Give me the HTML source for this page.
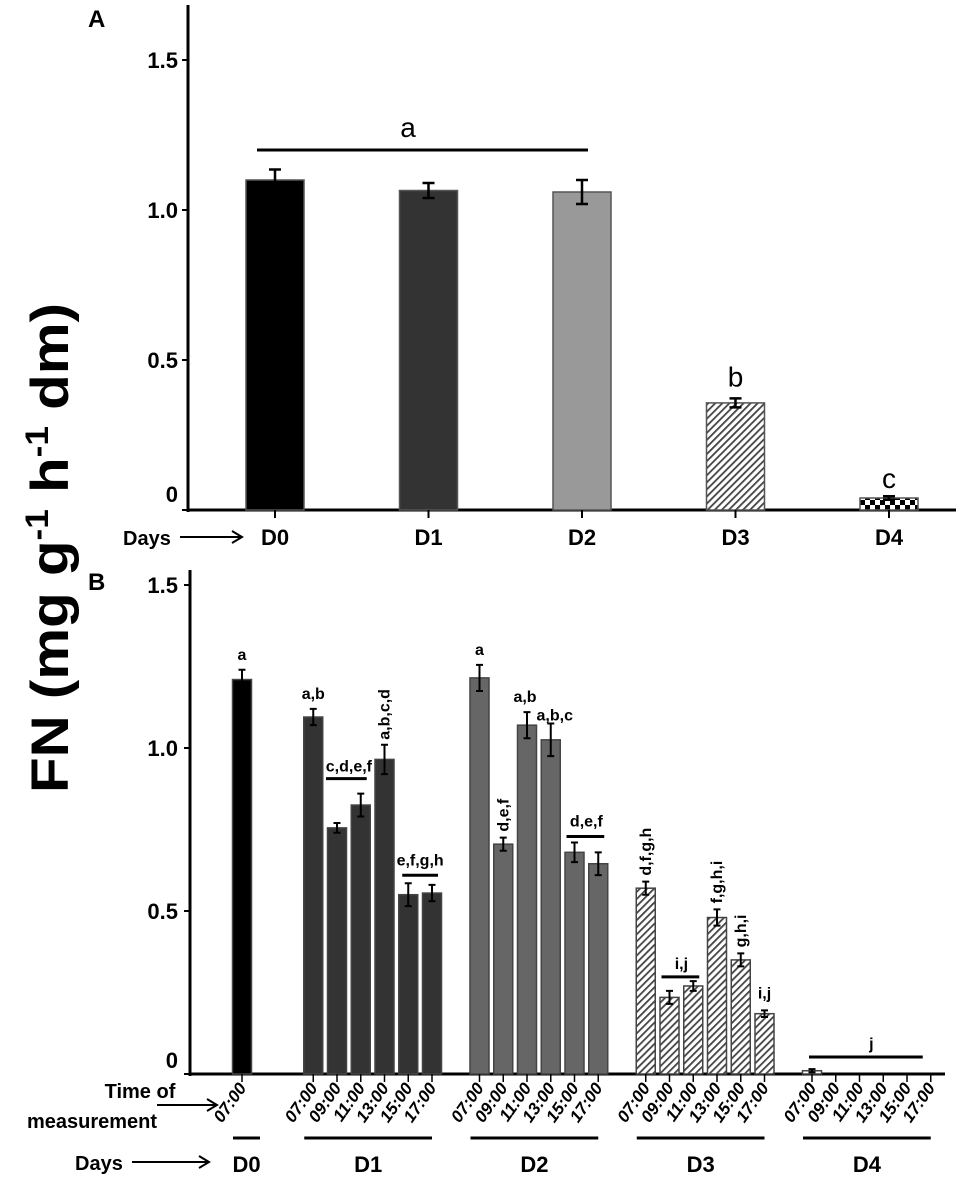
<!DOCTYPE html>
<html><head><meta charset="utf-8"><style>
html,body{margin:0;padding:0;background:#fff;}
svg{display:block;font-family:"Liberation Sans",Arial,sans-serif;}
</style></head><body>
<svg id="fig" width="963" height="1183" viewBox="0 0 963 1183" xmlns="http://www.w3.org/2000/svg">
<defs>
<pattern id="hatch" patternUnits="userSpaceOnUse" width="5" height="5" patternTransform="rotate(45)">
<rect width="5" height="5" fill="#fff"/><rect width="1.8" height="5" fill="#444"/></pattern>
<pattern id="checker" patternUnits="userSpaceOnUse" width="10" height="10">
<rect width="10" height="10" fill="#fff"/><rect width="5" height="5" fill="#000"/><rect x="5" y="5" width="5" height="5" fill="#000"/></pattern>
</defs>
<text transform="translate(68,548) rotate(-90)" text-anchor="middle" font-size="53" font-weight="bold" textLength="490" lengthAdjust="spacingAndGlyphs">FN  (mg g<tspan font-size="32" dy="-20">-1</tspan><tspan dy="20"> h</tspan><tspan font-size="32" dy="-20">-1</tspan><tspan dy="20"> dm)</tspan></text>
<text x="88" y="27" font-size="24" font-weight="bold">A</text>
<text x="88" y="590" font-size="24" font-weight="bold">B</text>
<g id="gA"></g>
<g id="gB"></g>
</svg>
<script>
// Panel A data
const aCategories = ["D0","D1","D2","D3","D4"];
const aValues = [1.10, 1.065, 1.06, 0.357, 0.04];
const aErrors = [0.035, 0.025, 0.04, 0.015, 0.006];
const aFills = ["#000","#333","#999","url(#hatch)","url(#checker)"];
const yTicks = [0, 0.5, 1.0, 1.5];
const yTickLabels = ["0","0.5","1.0","1.5"];
// Panel B data
const bDays = ["D0","D1","D2","D3","D4"];
const bTimes = [["07:00"],["07:00","09:00","11:00","13:00","15:00","17:00"],["07:00","09:00","11:00","13:00","15:00","17:00"],["07:00","09:00","11:00","13:00","15:00","17:00"],["07:00","09:00","11:00","13:00","15:00","17:00"]];
const bValues = [[1.21],[1.095,0.755,0.825,0.965,0.55,0.555],[1.215,0.705,1.07,1.025,0.68,0.645],[0.57,0.235,0.27,0.48,0.35,0.185],[0.01,0,0,0,0,0]];
const bErrors = [[0.03],[0.025,0.015,0.035,0.045,0.035,0.025],[0.04,0.02,0.04,0.05,0.03,0.035],[0.02,0.02,0.015,0.025,0.02,0.01],[0.005,0,0,0,0,0]];
const bFills = ["#000","#333","#666","url(#hatch)","#fff"];

const NS="http://www.w3.org/2000/svg";
function mk(parent,tag,attrs,text){const el=document.createElementNS(NS,tag);for(const k in attrs)el.setAttribute(k,attrs[k]);if(text!==undefined)el.textContent=text;parent.appendChild(el);return el;}

// ---- Panel A ----
const gA=document.getElementById('gA');
const axA=188, y0A=510, pxA=300;
const yA=v=>y0A-v*pxA;
const xA=i=>275+i*153.5;
let e;
e=mk(gA,'line',{x1:axA,y1:5,x2:axA,y2:y0A+2,stroke:'#000','stroke-width':3});

e=mk(gA,'line',{x1:axA,y1:y0A,x2:956,y2:y0A,stroke:'#000','stroke-width':3});

yTicks.forEach((t,i)=>{
  mk(gA,'line',{x1:axA-6,y1:yA(t),x2:axA,y2:yA(t),stroke:'#000','stroke-width':2});
  e=mk(gA,'text',{x:axA-10,y:yA(t)+(t===0?-8:8),'text-anchor':'end','font-size':22,'font-weight':'bold'},yTickLabels[i]);
  
});
aCategories.forEach((c,i)=>{
  const x=xA(i),w=58;
  e=mk(gA,'rect',{x:x-w/2,y:yA(aValues[i]),width:w,height:aValues[i]*pxA,fill:aFills[i],stroke:'#555','stroke-width':1.5});
  
  const t=yA(aValues[i]+aErrors[i]),b=yA(aValues[i]-aErrors[i]);
  e=mk(gA,'path',{d:`M${x-6},${t}H${x+6}M${x},${t}V${b}M${x-6},${b}H${x+6}`,stroke:'#000','stroke-width':2.5,fill:'none'});
  
  mk(gA,'line',{x1:x,y1:y0A,x2:x,y2:y0A+8,stroke:'#000','stroke-width':2});
  e=mk(gA,'text',{x:x,y:545,'text-anchor':'middle','font-size':22,'font-weight':'bold'},c);
  
});
e=mk(gA,'line',{x1:257,y1:150,x2:588,y2:150,stroke:'#000','stroke-width':3});

e=mk(gA,'text',{x:408,y:137,'text-anchor':'middle','font-size':28},'a');

e=mk(gA,'text',{x:xA(3),y:yA(aValues[3]+aErrors[3])-12,'text-anchor':'middle','font-size':28},'b');

e=mk(gA,'text',{x:xA(4),y:yA(aValues[4]+aErrors[4])-8,'text-anchor':'middle','font-size':28},'c');

e=mk(gA,'text',{x:123,y:545,'font-size':20,'font-weight':'bold'},'Days');

e=mk(gA,'path',{d:'M180,537H240M232,531L242,537L232,543',stroke:'#000','stroke-width':2,fill:'none'});


// ---- Panel B ----
const gB=document.getElementById('gB');
const axB=190, y0B=1074, pxB=326;
const yB=v=>y0B-v*pxB;
const slot=s=>242+s*23.75;
const dayStart=[0,3,10,17,24];
e=mk(gB,'line',{x1:axB,y1:570,x2:axB,y2:y0B+2,stroke:'#000','stroke-width':3});

e=mk(gB,'line',{x1:axB,y1:y0B,x2:945,y2:y0B,stroke:'#000','stroke-width':3});

yTicks.forEach((t,i)=>{
  mk(gB,'line',{x1:axB-6,y1:yB(t),x2:axB,y2:yB(t),stroke:'#000','stroke-width':2});
  e=mk(gB,'text',{x:axB-12,y:yB(t)+(t===0?-6:8),'text-anchor':'end','font-size':22,'font-weight':'bold'},yTickLabels[i]);
  
});
bDays.forEach((d,di)=>{
  const n=bTimes[di].length;
  bTimes[di].forEach((tm,j)=>{
    const x=slot(dayStart[di]+j),w=19,v=bValues[di][j],er=bErrors[di][j];
    if(v>0){
      e=mk(gB,'rect',{x:x-w/2,y:yB(v),width:w,height:v*pxB,fill:bFills[di],stroke:'#444','stroke-width':1.5});
      
    }
    if(er>0){
      const t=yB(v+er),b=yB(v-er);
      e=mk(gB,'path',{d:`M${x-3.5},${t}H${x+3.5}M${x},${t}V${b}M${x-3.5},${b}H${x+3.5}`,stroke:'#000','stroke-width':2,fill:'none'});
      
    }
    mk(gB,'line',{x1:x,y1:y0B,x2:x,y2:y0B+8,stroke:'#000','stroke-width':1.5});
    e=mk(gB,'text',{transform:`translate(${x+5},${1088}) rotate(-55)`,'text-anchor':'end','font-size':17,'font-weight':'bold','font-style':'italic'},tm);
    
  });
  const xs=slot(dayStart[di])-9, xe=slot(dayStart[di]+n-1)+(n>1?0:18);
  e=mk(gB,'line',{x1:xs,y1:1138,x2:xe,y2:1138,stroke:'#000','stroke-width':3});
  
  e=mk(gB,'text',{x:(xs+xe)/2,y:1172,'text-anchor':'middle','font-size':22,'font-weight':'bold'},d);
  
});
function letter(txt,x,y,rot){
  const el=mk(gB,'text',rot?{transform:`translate(${x},${y}) rotate(-90)`,'font-size':16,'font-weight':'bold'}:{x:x,y:y,'text-anchor':'middle','font-size':16,'font-weight':'bold'},txt);
  
  
}
function sigLine(x1,x2,y){
  const el=mk(gB,'line',{x1:x1,y1:y,x2:x2,y2:y,stroke:'#000','stroke-width':3});
  
  
}
const barTop=(d,j)=>yB(bValues[d][j]+bErrors[d][j]);
letter('a',slot(0),barTop(0,0)-10,false);
letter('a,b',slot(3),barTop(1,0)-10,false);
letter('c,d,e,f',slot(4.5),barTop(1,2)-22,false); sigLine(slot(4)-11,slot(5)+6,barTop(1,2)-15);
letter('a,b,c,d',slot(6)+5,barTop(1,3)-5,true);
letter('e,f,g,h',slot(7.5),barTop(1,4)-18,false); sigLine(slot(7)-6,slot(8)+6,barTop(1,4)-8);
letter('a',slot(10),barTop(2,0)-10,false);
letter('d,e,f',slot(11)+5,barTop(2,1)-6,true);
letter('a,b',slot(12)-2,barTop(2,2)-10,false);
letter('a,b,c',slot(13)+4,barTop(2,3)-3,false);
letter('d,e,f',slot(14.5),barTop(2,4)-16,false); sigLine(slot(14)-8,slot(15)+6,barTop(2,4)-6);
letter('d,f,g,h',slot(17)+5,barTop(3,0)-6,true);
letter('i,j',slot(18.5),barTop(3,1)-22,false); sigLine(slot(18)-8,slot(19)+6,barTop(3,1)-14);
letter('f,g,h,i',slot(20)+5,barTop(3,3)-6,true);
letter('g,h,i',slot(21)+5,barTop(3,4)-6,true);
letter('i,j',slot(22),barTop(3,5)-12,false);
letter('j',slot(26.5),1049,false); sigLine(slot(24)-3,slot(29)-8,1057);
e=mk(gB,'text',{x:140,y:1098,'text-anchor':'middle','font-size':20,'font-weight':'bold'},'Time of');

e=mk(gB,'text',{x:92,y:1128,'text-anchor':'middle','font-size':20,'font-weight':'bold'},'measurement');

e=mk(gB,'path',{d:'M157,1105H215M207,1099L217,1105L207,1111',stroke:'#000','stroke-width':2,fill:'none'});

e=mk(gB,'text',{x:75,y:1170,'font-size':20,'font-weight':'bold'},'Days');

e=mk(gB,'path',{d:'M132,1162H207M199,1156L209,1162L199,1168',stroke:'#000','stroke-width':2,fill:'none'});

</script>
</body></html>
